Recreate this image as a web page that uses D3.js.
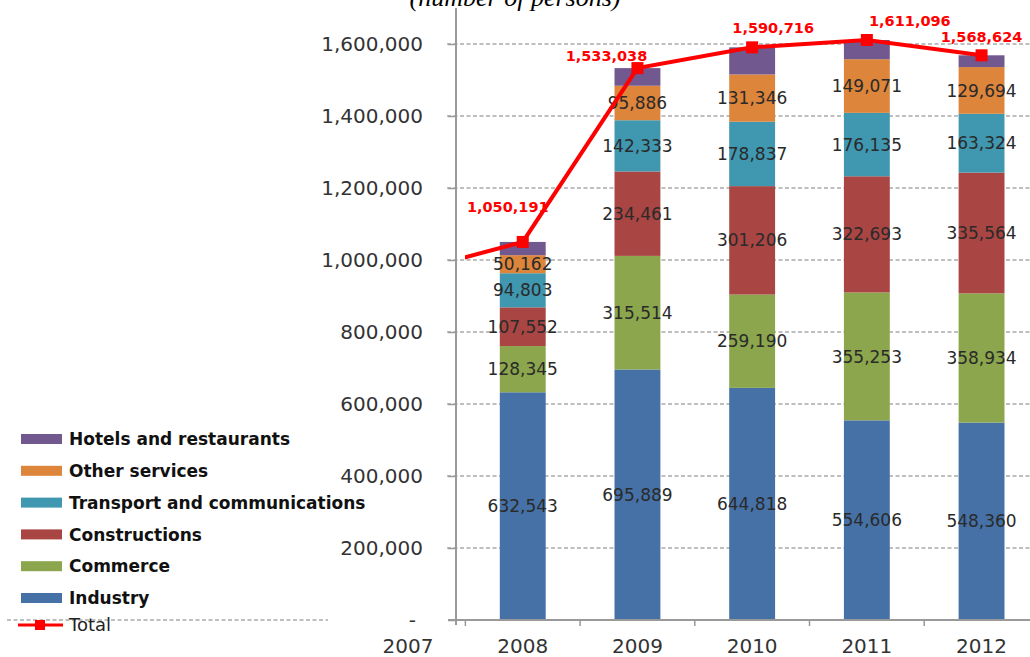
<!DOCTYPE html>
<html>
<head>
<meta charset="utf-8">
<script src="https://cdn.jsdelivr.net/npm/d3@7"></script>
<style>
  body { margin: 0; background: #fff; }
  text { font-family: 'DejaVu Sans', Verdana, sans-serif; }
</style>
</head>
<body>
<div class="chart"></div>
<script>
// ======= DATA =======
const years = ['2007', '2008', '2009', '2010', '2011', '2012']
const barYears = ['2008', '2009', '2010', '2011', '2012']

const industry      = [632543, 695889, 644818, 554606, 548360]
const commerce      = [128345, 315514, 259190, 355253, 358934]
const constructions = [107552, 234461, 301206, 322693, 335564]
const transport     = [94803, 142333, 178837, 176135, 163324]
const otherServices = [50162, 95886, 131346, 149071, 129694]
const hotels        = [36786, 48955, 75319, 53338, 32748] // not labelled

const totals = [965000, 1050191, 1533038, 1590716, 1611096, 1568624]

const yTicks = [0, 200000, 400000, 600000, 800000, 1000000, 1200000, 1400000, 1600000]
const seriesNames = ['Industry', 'Commerce', 'Constructions', 'Transport and communications', 'Other services', 'Hotels and restaurants']
const seriesColors = ['#4571a7', '#8ba64c', '#a94543', '#3f97b0', '#dc853b', '#71588f']

// hand placed total labels (offset from the marker), like the original
const totalLabelShift = [[-15, -30], [-31, -7], [21, -14], [43, -14], [0, -13]]

// ======= LAYOUT =======
const W = 1030, H = 657
const plotLeft = 456, plotRight = 1030, plotBottom = 620

const svg = d3.select('.chart')
  .append('svg')
    .attr('width', W)
    .attr('height', H)

const xScale = d3.scaleBand()
  .domain(years)
  .range([350.7, 1038.9])
  .padding(0)
const bw = xScale.bandwidth()
const barW = bw * 0.4

const yScale = d3.scaleLinear()
  .domain([0, 1700000])
  .range([plotBottom, 8])

// title (cut off at the top in the original)
svg.append('text')
  .attr('x', 515)
  .attr('y', 6)
  .attr('text-anchor', 'middle')
  .style('font-family', "'Liberation Serif', 'Times New Roman', serif")
  .style('font-style', 'italic')
  .style('font-size', '26px')
  .text('(number of persons)')

// gridlines
svg.append('g')
  .selectAll('line')
  .data(yTicks.filter(d => d > 0))
  .join('line')
    .attr('x1', 447)
    .attr('x2', plotRight)
    .attr('y1', d => yScale(d))
    .attr('y2', d => yScale(d))
    .attr('stroke', '#aaa')
    .attr('stroke-width', 1.3)
    .attr('stroke-dasharray', '4,2.5')

// stray dashed line under the legend
svg.append('line')
  .attr('x1', 7).attr('x2', 328)
  .attr('y1', yScale(0)).attr('y2', yScale(0))
  .attr('stroke', '#aaa')
  .attr('stroke-width', 1.3)
  .attr('stroke-dasharray', '4,2.5')

// ======= STACKED BARS =======
const table = barYears.map((yr, i) => ({
  year: yr,
  'Industry': industry[i],
  'Commerce': commerce[i],
  'Constructions': constructions[i],
  'Transport and communications': transport[i],
  'Other services': otherServices[i],
  'Hotels and restaurants': hotels[i]
}))

const stack = d3.stack().keys(seriesNames)(table)
const labelled = seriesNames.slice(0, 5)

const layers = svg.append('g')
  .selectAll('g')
  .data(stack)
  .join('g')
    .attr('fill', (d, i) => seriesColors[i])

layers.selectAll('rect')
  .data(d => d)
  .join('rect')
    .attr('x', d => xScale(d.data.year) + (bw - barW) / 2)
    .attr('width', barW)
    .attr('y', d => yScale(d[1]))
    .attr('height', d => yScale(d[0]) - yScale(d[1]))

// value labels inside the segments
const labels = svg.append('g')
stack.filter(s => labelled.includes(s.key)).forEach(s => {
  labels.selectAll(null)
    .data(s)
    .join('text')
      .attr('x', d => xScale(d.data.year) + bw / 2)
      .attr('y', d => (yScale(d[0]) + yScale(d[1])) / 2)
      .attr('dy', '0.36em')
      .attr('text-anchor', 'middle')
      .attr('fill', '#2a2a2a')
      .style('font-size', '17px')
      .text(d => d3.format(',')(d[1] - d[0]))
})

// ======= AXES =======
const yAxis = d3.axisLeft(yScale)
  .tickValues(yTicks)
  .tickSize(8)
  .tickPadding(25)
  .tickFormat(d => d === 0 ? '-' : d3.format(',')(d))

const yG = svg.append('g')
  .attr('transform', `translate(${plotLeft}, 0)`)
  .call(yAxis)
yG.select('.domain').remove()
yG.selectAll('line').attr('stroke', '#999').attr('stroke-width', 1.5)
yG.selectAll('text')
  .attr('fill', '#333')
  .style('font-size', '20px')
  .attr('dx', d => d === 0 ? -7 : 0)

// y axis line
svg.append('line')
  .attr('x1', plotLeft).attr('x2', plotLeft)
  .attr('y1', yScale(1700000)).attr('y2', plotBottom + 5)
  .attr('stroke', '#999')
  .attr('stroke-width', 2)

const xAxis = d3.axisBottom(xScale)
  .tickSize(0)
  .tickPadding(19)
const xG = svg.append('g')
  .attr('transform', `translate(0, ${plotBottom})`)
  .call(xAxis)
xG.select('.domain').remove()
xG.selectAll('text')
  .attr('fill', '#333')
  .style('font-size', '20px')

// x axis line and band boundary ticks
svg.append('line')
  .attr('x1', 448).attr('x2', plotRight)
  .attr('y1', plotBottom).attr('y2', plotBottom)
  .attr('stroke', '#999')
  .attr('stroke-width', 2)

svg.append('g')
  .selectAll('line')
  .data(years.filter(d => xScale(d) > plotLeft))
  .join('line')
    .attr('x1', d => xScale(d))
    .attr('x2', d => xScale(d))
    .attr('y1', plotBottom)
    .attr('y2', plotBottom + 6)
    .attr('stroke', '#999')
    .attr('stroke-width', 1.5)

// ======= TOTAL LINE =======
svg.append('clipPath')
  .attr('id', 'plot-clip')
  .append('rect')
    .attr('x', 465)
    .attr('y', 0)
    .attr('width', plotRight - 465)
    .attr('height', H)

const pts = years.map((yr, i) => ({ year: yr, value: totals[i] }))
const line = d3.line()
  .x(d => xScale(d.year) + bw / 2)
  .y(d => yScale(d.value))

const totalG = svg.append('g').attr('clip-path', 'url(#plot-clip)')
totalG.append('path')
  .datum(pts)
  .attr('d', line)
  .attr('fill', 'none')
  .attr('stroke', '#ff0000')
  .attr('stroke-width', 4)

totalG.selectAll('rect')
  .data(pts)
  .join('rect')
    .attr('x', d => xScale(d.year) + bw / 2 - 6)
    .attr('y', d => yScale(d.value) - 6)
    .attr('width', 12)
    .attr('height', 12)
    .attr('fill', '#ff0000')

svg.append('g')
  .selectAll('text')
  .data(pts.slice(1))
  .join('text')
    .attr('x', (d, i) => xScale(d.year) + bw / 2 + totalLabelShift[i][0])
    .attr('y', (d, i) => yScale(d.value) + totalLabelShift[i][1])
    .attr('text-anchor', 'middle')
    .attr('fill', '#ff0000')
    .style('font-size', '14.5px')
    .style('font-weight', 'bold')
    .text(d => d3.format(',')(d.value))

// ======= LEGEND =======
const legendItems = seriesNames.map((n, i) => ({ name: n, color: seriesColors[i] })).reverse()
const legend = svg.append('g')

const item = legend.selectAll('g')
  .data(legendItems)
  .join('g')
    .attr('transform', (d, i) => `translate(0, ${439 + i * 31.8})`)

item.append('rect')
  .attr('x', 21)
  .attr('y', -5)
  .attr('width', 41)
  .attr('height', 10)
  .attr('fill', d => d.color)

item.append('text')
  .attr('x', 69)
  .attr('dy', '0.36em')
  .attr('fill', '#111')
  .style('font-size', '17px')
  .style('font-weight', 'bold')
  .text(d => d.name)

const totalItem = legend.append('g').attr('transform', 'translate(0, 625)')
totalItem.append('line')
  .attr('x1', 18).attr('x2', 63)
  .attr('stroke', '#ff0000')
  .attr('stroke-width', 3)
totalItem.append('rect')
  .attr('x', 35).attr('y', -5)
  .attr('width', 10).attr('height', 10)
  .attr('fill', '#ff0000')
totalItem.append('text')
  .attr('x', 69)
  .attr('dy', '0.36em')
  .attr('fill', '#222')
  .style('font-size', '18px')
  .text('Total')
</script>
</body>
</html>
